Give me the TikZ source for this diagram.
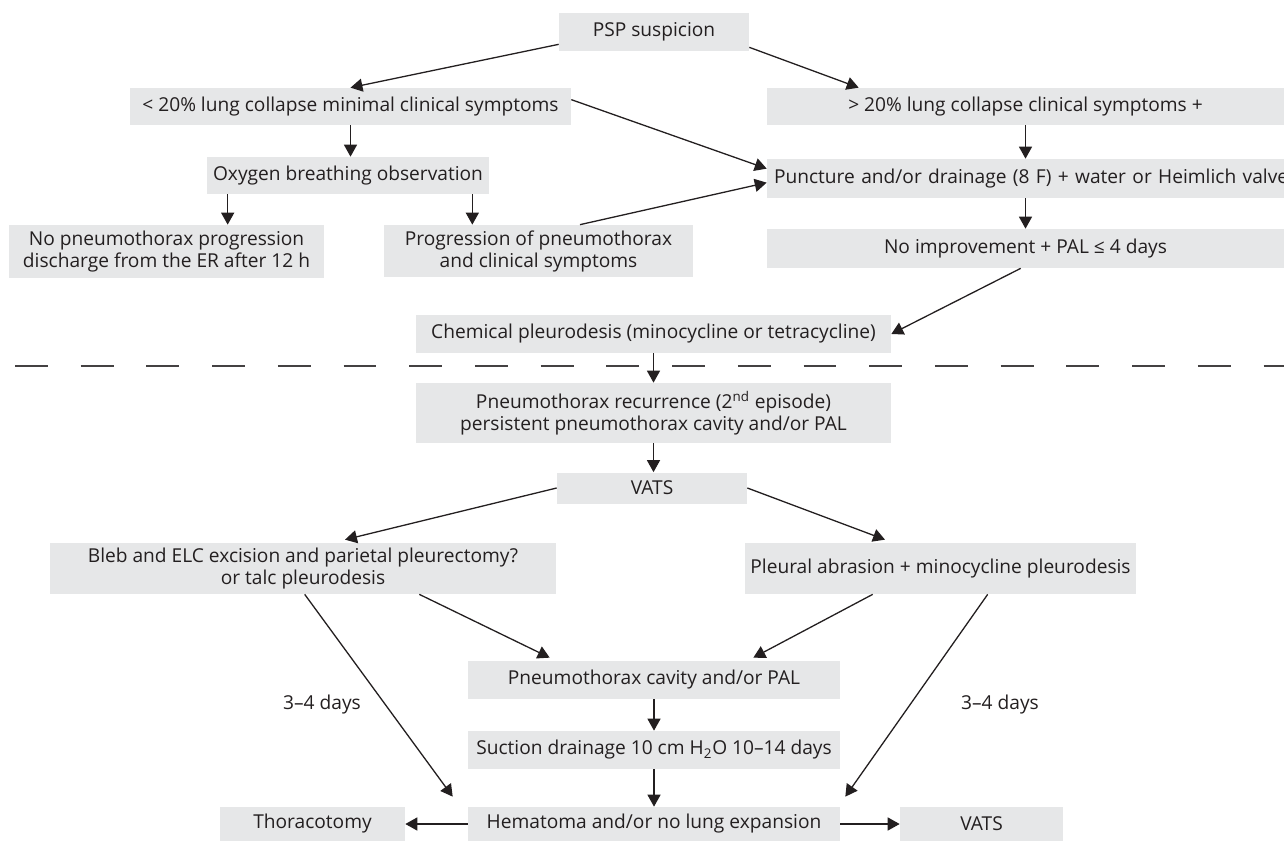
\documentclass[tikz,border=0pt]{standalone}
\usepackage{fontspec}
\setmainfont{Open Sans}
\usetikzlibrary{arrows.meta,calc}
\definecolor{boxgray}{HTML}{E6E7E8}
\definecolor{ink}{HTML}{231F20}

\begin{document}
\begin{tikzpicture}[x=0.02cm, y=0.02cm, font=\fontsize{10.9}{12.5}\selectfont]
  \useasboundingbox (0,0) rectangle (1284,-841);
  \begin{scope}[every node/.style={fill=boxgray, text=ink, inner sep=0pt, align=center}]
    \node (psp) [minimum width=3.8cm, minimum height=0.76cm] at (654,-32) {PSP suspicion};
    \node (less20) [minimum width=8.82cm, minimum height=0.74cm] at (350.5,-106.5) {< 20\% lung collapse minimal clinical symptoms};
    \node (more20) [minimum width=10.34cm, minimum height=0.74cm] at (1025.5,-106.5) {> 20\% lung collapse clinical symptoms +};
    \node (oxygen) [minimum width=5.64cm, minimum height=0.74cm] at (348,-175.5) {Oxygen breathing observation};
    \node (punct) [text width=10.38cm, inner xsep=0.14cm, align=left, minimum height=0.78cm] at (1033.5,-178.5) {Puncture and/or drainage (8 F) + water or Heimlich valve};
    \node (noprog) [minimum width=6.3cm, minimum height=1.06cm] at (166.5,-251.5) {No pneumothorax progression\\discharge from the ER after 12 h};
    \node (progr) [minimum width=6.18cm, minimum height=1.04cm] at (538.5,-251) {Progression of pneumothorax\\and clinical symptoms};
    \node (noimpr) [minimum width=10.34cm, minimum height=0.78cm] at (1025.5,-248.5) {No improvement + PAL ≤ 4 days};
    \node (chem) [minimum width=9.5cm, minimum height=0.76cm] at (653.5,-334) {Chemical pleurodesis (minocycline or tetracycline)};
    \node (recur) [minimum width=9.5cm, minimum height=1.2cm] at (653.5,-413) {Pneumothorax recurrence (2\textsuperscript{nd} episode)\\persistent pneumothorax cavity and/or PAL};
    \node (vats) [minimum width=3.8cm, minimum height=0.62cm] at (652,-488) {VATS};
    \node (bleb) [minimum width=10.12cm, minimum height=1.02cm] at (303,-568.5) {Bleb and ELC excision and parietal pleurectomy?\\or talc pleurodesis};
    \node (pleural) [minimum width=7.82cm, minimum height=1.02cm] at (940.5,-568.5) {Pleural abrasion + minocycline pleurodesis};
    \node (pcav) [minimum width=7.44cm, minimum height=0.76cm] at (654,-680) {Pneumothorax cavity and/or PAL};
    \node (suction) [minimum width=7.44cm, minimum height=0.76cm] at (654,-750) {Suction drainage 10 cm H\textsubscript{2}O 10–14 days};
    \node (hemat) [minimum width=7.44cm, minimum height=0.68cm] at (654,-824) {Hematoma and/or no lung expansion};
    \node (thor) [minimum width=3.7cm, minimum height=0.68cm] at (312.5,-824) {Thoracotomy};
    \node (vats2) [minimum width=3.26cm, minimum height=0.68cm] at (981.5,-824) {VATS};
  \end{scope}
  \node (days1) [text=ink] at (322,-705) {3–4 days};
  \node (days2) [text=ink] at (1000,-705) {3–4 days};
  % separator between conservative and surgical part
  \draw[ink!85, line width=0.74pt, dash pattern=on 18.7pt off 18.7pt] (15,-366) -- (1284,-366);
  \begin{scope}[every edge/.style={draw=ink, line width=0.74pt, -{Triangle[width=7.4pt,length=6.8pt]}}]
    \path ($(psp.south west)+(0,7)$) edge (less20.north);
    \path ($(psp.south east)+(0,4)$) edge ($(more20.north west)+(92,0)$);
    \path (less20.south) edge (less20.south |- oxygen.north);
    \path (more20.south) edge (more20.south |- punct.north);
    \path ($(less20.north east)+(0,-12)$) edge ($(punct.north west)+(0,-10)$);
    \path ($(oxygen.south west)+(21,0)$) coordinate (o1) edge (o1 |- noprog.north);
    \path ($(oxygen.south east)+(-17,0)$) coordinate (o2) edge (o2 |- progr.north);
    \path ($(progr.north)+(41.5,0)$) edge ($(punct.north west)+(0,-24)$);
    \path (punct.south -| more20.south) edge (more20.south |- noimpr.north);
    \path ($(noimpr.south west)+(254,0)$) edge (chem.east);
    \path (chem.south) edge (recur.north);
    \path (recur.south) edge (recur.south |- vats.north);
    \path (vats.west) edge ($(bleb.north)+(42,3)$);
    \path (vats.east) edge ($(pleural.north)+(-55.5,3)$);
    \path ($(bleb.south east)+(-137,0)$) edge ($(pcav.north west)+(82,3)$);
    \path ($(pleural.south west)+(128,0)$) edge ($(pcav.north east)+(-87,3)$);
    \path ($(bleb.south west)+(255,0)$) edge ($(hemat.north west)+(-15,10)$);
    \path ($(pleural.south west)+(243,0)$) edge ($(hemat.north east)+(5,10)$);
    \path (pcav.south) edge (suction.north);
    \path (suction.south) edge (hemat.north);
    \path (hemat.west) edge (thor.east);
    \path (hemat.east) edge (vats2.west);
  \end{scope}
\end{tikzpicture}
\end{document}
